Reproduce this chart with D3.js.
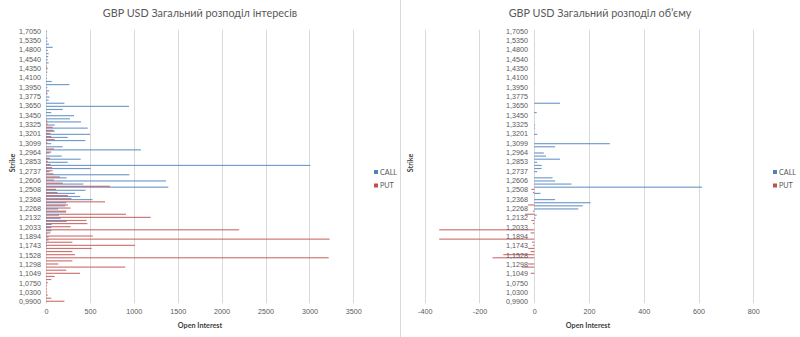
<!DOCTYPE html>
<html><head><meta charset="utf-8">
<script src="https://cdn.jsdelivr.net/npm/d3@7"></script>
<style>
html,body{margin:0;padding:0;background:#fff;}
svg{display:block;font-family:Lato,"Open Sans",sans-serif;}
</style></head>
<body>
<svg id="c" width="800" height="337"></svg>
<script>
// Strikes, bottom (index 0) to top
const strikes = ["0,9900","1,0000","1,0200","1,0300","1,0500","1,0600","1,0750","1,0850","1,0950","1,1049",
"1,1131","1,1215","1,1298","1,1375","1,1450","1,1528","1,1600","1,1672","1,1743","1,1793",
"1,1843","1,1894","1,1940","1,1987","1,2033","1,2066","1,2099","1,2132","1,2177","1,2223",
"1,2268","1,2301","1,2335","1,2368","1,2415","1,2461","1,2508","1,2541","1,2573","1,2606",
"1,2650","1,2693","1,2737","1,2776","1,2814","1,2853","1,2890","1,2927","1,2964","1,3009",
"1,3054","1,3099","1,3133","1,3167","1,3201","1,3242","1,3284","1,3325","1,3367","1,3408",
"1,3450","1,3517","1,3583","1,3650","1,3692","1,3733","1,3775","1,3833","1,3892","1,3950",
"1,4000","1,4050","1,4100","1,4183","1,4267","1,4350","1,4413","1,4477","1,4540","1,4627",
"1,4713","1,4800","1,4983","1,5167","1,5350","1,5850","1,6450","1,7050"];
const strikeTicks = ["0,9900","1,0300","1,0750","1,1049","1,1298","1,1528","1,1743","1,1894","1,2033","1,2132",
"1,2268","1,2368","1,2508","1,2606","1,2737","1,2853","1,2964","1,3099","1,3201","1,3325",
"1,3450","1,3650","1,3775","1,3950","1,4100","1,4350","1,4540","1,4800","1,5350","1,7050"];

const callOI = [0,0,0,0,0,0,0,0,0,0, 0,0,0,0,0,0,0,0,10,10,
30,30,15,60,60,65,235,167,148,228, 140,220,230,530,390,330,450,1393,425,1367,
235,949,40,509,3010,247,395,179,40,1082, 190,60,448,247,501,100,475,100,399,273,
319,60,190,945,209,30,40,15,35,15, 266,65,10,5,15,10,10,30,20,25,
30,20,76,34,15,15,5,10];
const putOI = [209,60,20,10,10,10,20,60,100,387, 230,903,140,300,3220,330,300,520,1013,300,
3230,532,50,2200,281,471,460,1192,911,230, 280,250,672,290,250,130,114,729,190,91,
159,84,75,68,53,20,46,0,60,91, 0,15,100,60,50,84,76,20,15,0,
0,0,0,0,0,0,0,15,0,0, 0,0,0,0,0,20,0,0,0,0,
0,0,0,0,0,0,0,0];
const callVol = [0,0,0,0,0,0,0,0,0,0, 0,0,0,0,0,0,0,0,0,0,
0,0,0,0,0,0,0,5,9,0, 161,177,206,76,0,23,0,613,136,76,
67,0,11,27,27,11,94,43,35,0, 76,276,0,0,11,0,3,3,0,0,
0,9,0,0,94,0,0,0,0,0, 0,0,0,0,0,0,0,0,0,0,
0,0,0,0,0,0,0,0];
const putVol = [0,0,0,0,0,0,0,0,0,-13, 0,-46,-22,0,-152,-113,-13,-22,-5,-8,
-347,0,-13,-347,0,-5,-10,0,-34,-5, 0,-22,0,0,0,-5,-10,0,0,0,
0,0,0,0,0,0,0,0,0,0, 0,0,0,0,0,0,0,0,0,0,
0,0,0,0,0,0,0,0,0,0, 0,0,0,0,0,0,0,0,0,0,
0,0,0,0,0,0,0,0];

const oiTicks = [0,500,1000,1500,2000,2500,3000,3500];
const volTicks = [-400,-200,0,200,400,600,800];

const C_CALL = "#4F81BD", C_PUT = "#C0504D";
const GRID = "#d9d9d9", TXT = "#595959";
const FS = "7.2px";

const svg = d3.select("#c");
svg.append("line").attr("x1",400.5).attr("x2",400.5).attr("y1",0).attr("y2",337).attr("stroke","#d9d9d9");

function panel(opt){
  const g = svg.append("g");
  const x = d3.scaleLinear().domain(opt.domain).range(opt.xr);
  const y = d3.scaleBand().domain(strikes.slice().reverse()).range([29.75,303.25]).paddingInner(0).paddingOuter(0);
  const s = y.bandwidth();
  const gw = s*2/3.5;
  const sub = d3.scaleBand().domain(["PUT","CALL"]).range([(s-gw)/2,(s+gw)/2]);
  g.selectAll(".gl").data(opt.ticks).join("line")
    .attr("x1",d=>Math.round(x(d))+0.5).attr("x2",d=>Math.round(x(d))+0.5)
    .attr("y1",29.75).attr("y2",303.25).attr("stroke",GRID).attr("stroke-width",1);
  const rows = [];
  strikes.forEach((k,i)=>{
    rows.push({k,ser:"CALL",v:opt.call[i]});
    rows.push({k,ser:"PUT",v:opt.put[i]});
  });
  g.selectAll(".b").data(rows.filter(r=>r.v!==0)).join("rect")
    .attr("x",d=>Math.min(x(0),x(d.v)))
    .attr("width",d=>Math.abs(x(d.v)-x(0)))
    .attr("y",d=>y(d.k)+sub(d.ser)-0.1)
    .attr("height",sub.bandwidth()*1.3)
    .attr("fill",d=>d.ser==="CALL"?C_CALL:C_PUT)
    .attr("fill-opacity",0.8);
  const ax = d3.axisLeft(y).tickValues(strikeTicks).tickSize(0).tickPadding(0);
  const ga = g.append("g").attr("transform",`translate(${opt.labelX},0)`).call(ax);
  ga.select(".domain").remove();
  ga.selectAll("text").attr("fill",TXT).style("font-size",FS).attr("dy","0.35em");
  const bx = d3.axisBottom(x).tickValues(opt.ticks).tickSize(0).tickPadding(0).tickFormat(d=>String(d));
  const gb = g.append("g").attr("transform",`translate(0,309)`).call(bx);
  gb.select(".domain").remove();
  gb.selectAll("text").attr("fill",TXT).style("font-size",FS);
  g.append("text").attr("x",opt.titleX).attr("y",17).attr("text-anchor","middle")
    .attr("fill",TXT).style("font-size","10.8px").text(opt.title);
  g.append("text").attr("x",opt.xlabX).attr("y",328).attr("text-anchor","middle")
    .attr("fill","#404040").style("font-size",FS).style("font-weight","bold").text("Open Interest");
  g.append("text").attr("transform",`translate(${opt.ylabX},163) rotate(-90)`).attr("text-anchor","middle")
    .attr("fill","#404040").style("font-size",FS).style("font-weight","bold").text("Strike");
  const lg = g.append("g").attr("transform",`translate(${opt.legX},0)`);
  [["CALL",C_CALL,172],["PUT",C_PUT,185.5]].forEach(([t,c,yy])=>{
    lg.append("rect").attr("x",0).attr("y",yy-2).attr("width",4).attr("height",4).attr("fill",c);
    lg.append("text").attr("x",6).attr("y",yy).attr("dy","0.35em").attr("fill",TXT).style("font-size",FS).text(t);
  });
}

panel({domain:[0,3500],xr:[46,353.3],ticks:oiTicks,call:callOI,put:putOI,labelX:41,
  title:"GBP USD Загальний розподіл інтересів",titleX:200,xlabX:200,ylabX:15,legX:374});
panel({domain:[-400,800],xr:[424.7,753.3],ticks:volTicks,call:callVol,put:putVol,labelX:528,
  title:"GBP USD Загальний розподіл об’єму",titleX:600,xlabX:588,ylabX:413,legX:773});
</script>
</body></html>
